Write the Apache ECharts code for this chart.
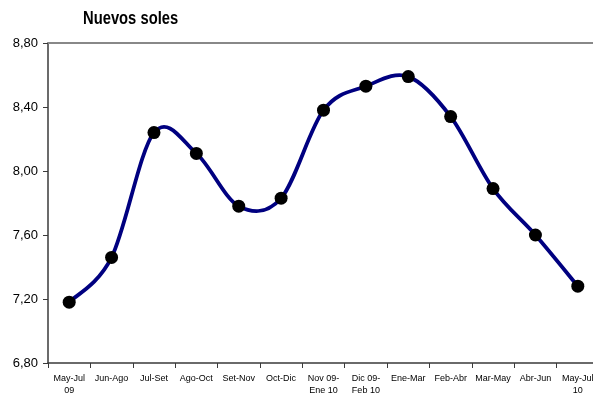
<!DOCTYPE html>
<html>
<head>
<meta charset="utf-8">
<script src="https://cdn.jsdelivr.net/npm/echarts@6/dist/echarts.min.js"></script>
<style>
  html, body { margin: 0; padding: 0; background: #fff; }
  #chart { width: 593px; height: 394px; }
</style>
</head>
<body>
<div id="chart"></div>
<script>
// Rolling three-month periods, May-Jul 2009 to May-Jul 2010
const periods = [
  'May-Jul\n09', 'Jun-Ago', 'Jul-Set', 'Ago-Oct', 'Set-Nov', 'Oct-Dic',
  'Nov 09-\nEne 10', 'Dic 09-\nFeb 10', 'Ene-Mar', 'Feb-Abr', 'Mar-May',
  'Abr-Jun', 'May-Jul\n10'
];
// Average value in nuevos soles
const values = [7.18, 7.46, 8.24, 8.11, 7.78, 7.83, 8.38, 8.53, 8.59, 8.34, 7.89, 7.60, 7.28];
// Value-axis range and step
const yMin = 6.8;
const yMax = 8.8;
const yStep = 0.4;

const LINE_COLOR = '#000080';

// Catmull-Rom style smoothed segment between point i and i+1,
// positioned through the chart's own coordinate system.
function renderSegment(params, api) {
  const i = params.dataIndex;
  if (i >= values.length - 1) return null;
  const pt = j => {
    const k = Math.max(0, Math.min(values.length - 1, j));
    return api.coord([k, values[k]]);
  };
  const p0 = pt(i - 1), p1 = pt(i), p2 = pt(i + 1), p3 = pt(i + 2);
  return {
    type: 'bezierCurve',
    shape: {
      x1: p1[0], y1: p1[1],
      cpx1: p1[0] + (p2[0] - p0[0]) / 6, cpy1: p1[1] + (p2[1] - p0[1]) / 6,
      cpx2: p2[0] - (p3[0] - p1[0]) / 6, cpy2: p2[1] - (p3[1] - p1[1]) / 6,
      x2: p2[0], y2: p2[1]
    },
    style: { stroke: LINE_COLOR, lineWidth: 3.8, fill: null, lineCap: 'round' }
  };
}

const chart = echarts.init(document.getElementById('chart'));
chart.setOption({
  animation: false,
  backgroundColor: '#ffffff',
  // condensed semi-bold unit caption
  graphic: [{
    type: 'text',
    x: 83,
    y: 10.5,
    scaleX: 0.82,
    style: {
      text: 'Nuevos soles',
      x: 0,
      y: 0,
      font: 'bold 18px "Liberation Sans", Arial, sans-serif',
      fill: '#000',
      textVerticalAlign: 'top'
    }
  }],
  grid: { left: 48, top: 43, width: 551, height: 320, outerBoundsMode: 'none', containLabel: false },
  xAxis: [
    {
      type: 'category',
      data: periods,
      boundaryGap: true,
      axisLine: { lineStyle: { color: '#3a3a3a', width: 1.5 } },
      axisTick: { show: true, length: 5, lineStyle: { color: '#3a3a3a' } },
      axisLabel: {
        interval: 0,
        margin: 10,
        fontSize: 9,
        lineHeight: 12,
        color: '#000',
        fontFamily: 'Liberation Sans, Arial'
      }
    },
    {
      // top frame line
      type: 'category',
      position: 'top',
      data: periods,
      axisLine: { lineStyle: { color: '#888888', width: 2 } },
      axisTick: { show: false },
      axisLabel: { show: false }
    }
  ],
  yAxis: {
    type: 'value',
    min: yMin,
    max: yMax,
    interval: yStep,
    axisLine: { show: true, lineStyle: { color: '#3a3a3a', width: 1.5 } },
    axisTick: { show: true, length: 5, lineStyle: { color: '#3a3a3a' } },
    splitLine: { show: false },
    axisLabel: {
      margin: 10,
      fontSize: 13,
      color: '#000',
      fontFamily: 'Liberation Sans, Arial',
      formatter: v => v.toFixed(2).replace('.', ',')
    }
  },
  series: [
    {
      type: 'custom',
      data: values.map((v, i) => [i, v]),
      renderItem: renderSegment,
      silent: true,
      z: 2
    },
    {
      type: 'scatter',
      data: values.map((v, i) => [i, v]),
      symbol: 'circle',
      symbolSize: 13,
      itemStyle: { color: '#000000', opacity: 1 },
      z: 3
    }
  ]
});
</script>
</body>
</html>
